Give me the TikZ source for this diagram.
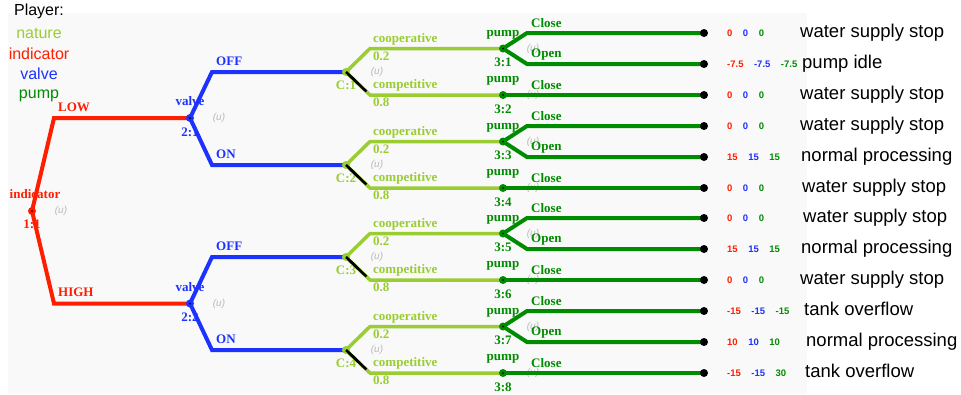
\documentclass[tikz,border=0pt]{standalone}
\usepackage{fontspec}
\setmainfont{Liberation Serif}
\newfontfamily\helv{Liberation Sans}
\usetikzlibrary{calc}

\definecolor{natcol}{RGB}{154,205,50}
\definecolor{indcol}{RGB}{255,30,0}
\definecolor{valcol}{RGB}{30,50,255}
\definecolor{pmpcol}{RGB}{0,140,0}
\definecolor{bgcol}{RGB}{249,249,249}
\definecolor{ucol}{RGB}{185,185,185}

\newcommand{\payoffs}[3]{{\color{indcol}#1}\hspace{10.5pt}{\color{valcol}#2}\hspace{10.5pt}{\color{pmpcol}#3}}

\begin{document}
\begin{tikzpicture}[x=1pt, y=-1pt,
		dec/.style={circle, fill, inner sep=0pt, minimum size=8pt,
			path picture={\fill[black] (path picture bounding box.center) circle (1pt);}},
		chn/.style={circle, fill=natcol, inner sep=0pt, minimum size=8pt},
		term/.style={circle, fill=black, inner sep=0pt, minimum size=8pt},
		lbl/.style={inner sep=0pt, anchor=base, font=\fontsize{13}{15}\selectfont\bfseries},
		blbl/.style={lbl, anchor=base west},
		unote/.style={inner sep=0pt, text=ucol, font=\helv\fontsize{10}{12}\selectfont\itshape},
		pay/.style={inner sep=0pt, anchor=west, font=\helv\fontsize{9.5}{11}\selectfont\bfseries},
		outc/.style={inner sep=0pt, anchor=base west, font=\helv\fontsize{18.5}{22}\selectfont},
		legend/.style={inner sep=0pt, anchor=base, font=\helv\fontsize{16}{19}\selectfont},
		indline/.style={line width=4pt, indcol},
		valline/.style={line width=4pt, valcol},
		natline/.style={line width=3.5pt, natcol},
		pmpline/.style={line width=4pt, pmpcol},
		chmark/.style={line width=2.5pt, black}]
		\useasboundingbox (0,0) rectangle (961,394);
		\fill[bgcol] (8,13) rectangle (807,394);
		
		% players
		\node[legend] (plr) at (39,15) {Player:};
		\node[legend, text=natcol] (lgnat) at (39,38) {nature};
		\node[legend, text=indcol] (lgind) at (39,59) {indicator};
		\node[legend, text=valcol] (lgval) at (39,79) {valve};
		\node[legend, text=pmpcol] (lgpmp) at (39,98) {pump};
		
		% tree positions
		\coordinate (I)  at (32,211);
		\coordinate (V1) at (190,118);
		\coordinate (V2) at (190,303.5);
		\coordinate (C1) at (346,72);
		\coordinate (C2) at (346,165);
		\coordinate (C3) at (346,257);
		\coordinate (C4) at (346,350);
		\coordinate (P1) at (503,48.5);
		\coordinate (P2) at (503,95);
		\coordinate (P3) at (503,141.5);
		\coordinate (P4) at (503,188);
		\coordinate (P5) at (503,233.5);
		\coordinate (P6) at (503,280);
		\coordinate (P7) at (503,326.5);
		\coordinate (P8) at (503,373);
		
		\coordinate (T1)  at (704,33);
		\coordinate (T2)  at (704,64);
		\coordinate (T3)  at (704,95);
		\coordinate (T4)  at (704,126);
		\coordinate (T5)  at (704,157);
		\coordinate (T6)  at (704,188);
		\coordinate (T7)  at (704,218);
		\coordinate (T8)  at (704,249);
		\coordinate (T9)  at (704,280);
		\coordinate (T10) at (704,311);
		\coordinate (T11) at (704,342);
		\coordinate (T12) at (704,373);
		
		% bends
		\coordinate (iL) at (54,118);
		\coordinate (iH) at (54,303.5);
		\coordinate (v1a) at (212,72);
		\coordinate (v1b) at (212,165);
		\coordinate (v2a) at (212,257);
		\coordinate (v2b) at (212,350);
		\coordinate (c1a) at (370,48.5);
		\coordinate (c1b) at (370,95);
		\coordinate (c2a) at (370,141.5);
		\coordinate (c2b) at (370,188);
		\coordinate (c3a) at (370,233.5);
		\coordinate (c3b) at (370,280);
		\coordinate (c4a) at (370,326.5);
		\coordinate (c4b) at (370,373);
		\coordinate (p1a) at (527,33);
		\coordinate (p1b) at (527,64);
		\coordinate (p3a) at (527,126);
		\coordinate (p3b) at (527,157);
		\coordinate (p5a) at (527,218);
		\coordinate (p5b) at (527,249);
		\coordinate (p7a) at (527,311);
		\coordinate (p7b) at (527,342);
		
		% node labels
		\node[lbl, text=indcol, xshift=3pt, yshift=13pt] at (I) {indicator};
		\node[lbl, text=indcol, yshift=-17pt] at (I) {1:1};
		\node[unote, xshift=29pt] at (I) {(u)};
		\node[lbl, text=valcol, yshift=12.5pt] at (V1) {valve};
		\node[lbl, text=valcol, yshift=-18pt] at (V1) {2:1};
		\node[unote, xshift=29pt] at (V1) {(u)};
		\node[lbl, text=valcol, yshift=12.5pt] at (V2) {valve};
		\node[lbl, text=valcol, yshift=-18pt] at (V2) {2:2};
		\node[unote, xshift=29pt] at (V2) {(u)};
		\node[lbl, text=natcol, yshift=-17.5pt] at (C1) {C:1};
		\node[unote, xshift=31pt] at (C1) {(u)};
		\node[lbl, text=natcol, yshift=-17.5pt] at (C2) {C:2};
		\node[unote, xshift=31pt] at (C2) {(u)};
		\node[lbl, text=natcol, yshift=-17.5pt] at (C3) {C:3};
		\node[unote, xshift=31pt] at (C3) {(u)};
		\node[lbl, text=natcol, yshift=-17.5pt] at (C4) {C:4};
		\node[unote, xshift=31pt] at (C4) {(u)};
		\node[lbl, text=pmpcol, yshift=12.5pt] at (P1) {pump};
		\node[lbl, text=pmpcol, yshift=-18pt] at (P1) {3:1};
		\node[unote, xshift=30pt] at (P1) {(u)};
		\node[lbl, text=pmpcol, yshift=12.5pt] at (P2) {pump};
		\node[lbl, text=pmpcol, yshift=-18pt] at (P2) {3:2};
		\node[unote, xshift=30pt] at (P2) {(u)};
		\node[lbl, text=pmpcol, yshift=12.5pt] at (P3) {pump};
		\node[lbl, text=pmpcol, yshift=-18pt] at (P3) {3:3};
		\node[unote, xshift=30pt] at (P3) {(u)};
		\node[lbl, text=pmpcol, yshift=12.5pt] at (P4) {pump};
		\node[lbl, text=pmpcol, yshift=-18pt] at (P4) {3:4};
		\node[unote, xshift=30pt] at (P4) {(u)};
		\node[lbl, text=pmpcol, yshift=12.5pt] at (P5) {pump};
		\node[lbl, text=pmpcol, yshift=-18pt] at (P5) {3:5};
		\node[unote, xshift=30pt] at (P5) {(u)};
		\node[lbl, text=pmpcol, yshift=12.5pt] at (P6) {pump};
		\node[lbl, text=pmpcol, yshift=-18pt] at (P6) {3:6};
		\node[unote, xshift=30pt] at (P6) {(u)};
		\node[lbl, text=pmpcol, yshift=12.5pt] at (P7) {pump};
		\node[lbl, text=pmpcol, yshift=-18pt] at (P7) {3:7};
		\node[unote, xshift=30pt] at (P7) {(u)};
		\node[lbl, text=pmpcol, yshift=12.5pt] at (P8) {pump};
		\node[lbl, text=pmpcol, yshift=-18pt] at (P8) {3:8};
		\node[unote, xshift=30pt] at (P8) {(u)};
		
		% branch labels
		\node[blbl, text=indcol, xshift=4pt, yshift=7pt] at (iL) {LOW};
		\node[blbl, text=indcol, xshift=4pt, yshift=7pt] at (iH) {HIGH};
		\node[blbl, text=valcol, xshift=4pt, yshift=7pt] at (v1a) {OFF};
		\node[blbl, text=valcol, xshift=4pt, yshift=7pt] at (v1b) {ON};
		\node[blbl, text=valcol, xshift=4pt, yshift=7pt] at (v2a) {OFF};
		\node[blbl, text=valcol, xshift=4pt, yshift=7pt] at (v2b) {ON};
		\node[blbl, text=natcol, xshift=3pt, yshift=6.5pt] at (c1a) {cooperative};
		\node[blbl, text=natcol, xshift=3pt, yshift=-11.5pt] at (c1a) {0.2};
		\node[blbl, text=natcol, xshift=3pt, yshift=6.5pt] at (c1b) {competitive};
		\node[blbl, text=natcol, xshift=3pt, yshift=-11.5pt] at (c1b) {0.8};
		\node[blbl, text=natcol, xshift=3pt, yshift=6.5pt] at (c2a) {cooperative};
		\node[blbl, text=natcol, xshift=3pt, yshift=-11.5pt] at (c2a) {0.2};
		\node[blbl, text=natcol, xshift=3pt, yshift=6.5pt] at (c2b) {competitive};
		\node[blbl, text=natcol, xshift=3pt, yshift=-11.5pt] at (c2b) {0.8};
		\node[blbl, text=natcol, xshift=3pt, yshift=6.5pt] at (c3a) {cooperative};
		\node[blbl, text=natcol, xshift=3pt, yshift=-11.5pt] at (c3a) {0.2};
		\node[blbl, text=natcol, xshift=3pt, yshift=6.5pt] at (c3b) {competitive};
		\node[blbl, text=natcol, xshift=3pt, yshift=-11.5pt] at (c3b) {0.8};
		\node[blbl, text=natcol, xshift=3pt, yshift=6.5pt] at (c4a) {cooperative};
		\node[blbl, text=natcol, xshift=3pt, yshift=-11.5pt] at (c4a) {0.2};
		\node[blbl, text=natcol, xshift=3pt, yshift=6.5pt] at (c4b) {competitive};
		\node[blbl, text=natcol, xshift=3pt, yshift=-11.5pt] at (c4b) {0.8};
		\node[blbl, text=pmpcol, xshift=4pt, yshift=6pt] at (p1a) {Close};
		\node[blbl, text=pmpcol, xshift=4pt, yshift=7pt] at (p1b) {Open};
		\node[blbl, text=pmpcol, xshift=28pt, yshift=6pt] at (P2) {Close};
		\node[blbl, text=pmpcol, xshift=4pt, yshift=6pt] at (p3a) {Close};
		\node[blbl, text=pmpcol, xshift=4pt, yshift=7pt] at (p3b) {Open};
		\node[blbl, text=pmpcol, xshift=28pt, yshift=6pt] at (P4) {Close};
		\node[blbl, text=pmpcol, xshift=4pt, yshift=6pt] at (p5a) {Close};
		\node[blbl, text=pmpcol, xshift=4pt, yshift=7pt] at (p5b) {Open};
		\node[blbl, text=pmpcol, xshift=28pt, yshift=6pt] at (P6) {Close};
		\node[blbl, text=pmpcol, xshift=4pt, yshift=6pt] at (p7a) {Close};
		\node[blbl, text=pmpcol, xshift=4pt, yshift=7pt] at (p7b) {Open};
		\node[blbl, text=pmpcol, xshift=28pt, yshift=6pt] at (P8) {Close};
		
		% branches
		\draw[indline] (I) -- (iL) -- (V1);
		\draw[indline] (I) -- (iH) -- (V2);
		\draw[valline] (V1) -- (v1a) -- (C1);
		\draw[valline] (V1) -- (v1b) -- (C2);
		\draw[valline] (V2) -- (v2a) -- (C3);
		\draw[valline] (V2) -- (v2b) -- (C4);
		\draw[natline] (C1) -- (c1a) -- (P1);
		\draw[natline] (C1) -- (c1b) -- (P2);
		\draw[natline] (C2) -- (c2a) -- (P3);
		\draw[natline] (C2) -- (c2b) -- (P4);
		\draw[natline] (C3) -- (c3a) -- (P5);
		\draw[natline] (C3) -- (c3b) -- (P6);
		\draw[natline] (C4) -- (c4a) -- (P7);
		\draw[natline] (C4) -- (c4b) -- (P8);
		\draw[chmark] (C1) -- ($(C1)!0.85!(c1b)$);
		\draw[chmark] (C2) -- ($(C2)!0.85!(c2b)$);
		\draw[chmark] (C3) -- ($(C3)!0.85!(c3b)$);
		\draw[chmark] (C4) -- ($(C4)!0.85!(c4b)$);
		\draw[pmpline] (P1) -- (p1a) -- (T1);
		\draw[pmpline] (P1) -- (p1b) -- (T2);
		\draw[pmpline] (P2) -- (T3);
		\draw[pmpline] (P3) -- (p3a) -- (T4);
		\draw[pmpline] (P3) -- (p3b) -- (T5);
		\draw[pmpline] (P4) -- (T6);
		\draw[pmpline] (P5) -- (p5a) -- (T7);
		\draw[pmpline] (P5) -- (p5b) -- (T8);
		\draw[pmpline] (P6) -- (T9);
		\draw[pmpline] (P7) -- (p7a) -- (T10);
		\draw[pmpline] (P7) -- (p7b) -- (T11);
		\draw[pmpline] (P8) -- (T12);
		
		% nodes
		\node[dec, indcol] (Idot) at (I) {};
		\node[dec, valcol] (V1dot) at (V1) {};
		\node[dec, valcol] (V2dot) at (V2) {};
		\node[chn] (C1dot) at (C1) {};
		\node[chn] (C2dot) at (C2) {};
		\node[chn] (C3dot) at (C3) {};
		\node[chn] (C4dot) at (C4) {};
		\node[dec, pmpcol] (P1dot) at (P1) {};
		\node[dec, pmpcol] (P2dot) at (P2) {};
		\node[dec, pmpcol] (P3dot) at (P3) {};
		\node[dec, pmpcol] (P4dot) at (P4) {};
		\node[dec, pmpcol] (P5dot) at (P5) {};
		\node[dec, pmpcol] (P6dot) at (P6) {};
		\node[dec, pmpcol] (P7dot) at (P7) {};
		\node[dec, pmpcol] (P8dot) at (P8) {};
		\draw[chmark] (C1dot.center) -- ($(C1)!0.5!(c1b)$);
		\draw[chmark] (C2dot.center) -- ($(C2)!0.5!(c2b)$);
		\draw[chmark] (C3dot.center) -- ($(C3)!0.5!(c3b)$);
		\draw[chmark] (C4dot.center) -- ($(C4)!0.5!(c4b)$);
		
		% outcomes
		\node[term] (T1dot)  at (T1) {};
		\node[term] (T2dot)  at (T2) {};
		\node[term] (T3dot)  at (T3) {};
		\node[term] (T4dot)  at (T4) {};
		\node[term] (T5dot)  at (T5) {};
		\node[term] (T6dot)  at (T6) {};
		\node[term] (T7dot)  at (T7) {};
		\node[term] (T8dot)  at (T8) {};
		\node[term] (T9dot)  at (T9) {};
		\node[term] (T10dot) at (T10) {};
		\node[term] (T11dot) at (T11) {};
		\node[term] (T12dot) at (T12) {};
		
		\node[pay] (pay1)  at (727,33)  {\payoffs{0}{0}{0}};
		\node[pay] (pay2)  at (727,64)  {\payoffs{-7.5}{-7.5}{-7.5}};
		\node[pay] (pay3)  at (727,95)  {\payoffs{0}{0}{0}};
		\node[pay] (pay4)  at (727,126) {\payoffs{0}{0}{0}};
		\node[pay] (pay5)  at (727,157) {\payoffs{15}{15}{15}};
		\node[pay] (pay6)  at (727,188) {\payoffs{0}{0}{0}};
		\node[pay] (pay7)  at (727,218) {\payoffs{0}{0}{0}};
		\node[pay] (pay8)  at (727,249) {\payoffs{15}{15}{15}};
		\node[pay] (pay9)  at (727,280) {\payoffs{0}{0}{0}};
		\node[pay] (pay10) at (727,311) {\payoffs{-15}{-15}{-15}};
		\node[pay] (pay11) at (727,342) {\payoffs{10}{10}{10}};
		\node[pay] (pay12) at (727,373) {\payoffs{-15}{-15}{30}};
		
		\node[outc] (out1)  at (800,37)  {water supply stop};
		\node[outc] (out2)  at (802,68)  {pump idle};
		\node[outc] (out3)  at (800,99)  {water supply stop};
		\node[outc] (out4)  at (800,130) {water supply stop};
		\node[outc] (out5)  at (801,161) {normal processing};
		\node[outc] (out6)  at (802,192) {water supply stop};
		\node[outc] (out7)  at (803,222) {water supply stop};
		\node[outc] (out8)  at (801,253) {normal processing};
		\node[outc] (out9)  at (800,284) {water supply stop};
		\node[outc] (out10) at (804,315) {tank overflow};
		\node[outc] (out11) at (806,346) {normal processing};
		\node[outc] (out12) at (805,377) {tank overflow};
	\end{tikzpicture}
\end{document}
